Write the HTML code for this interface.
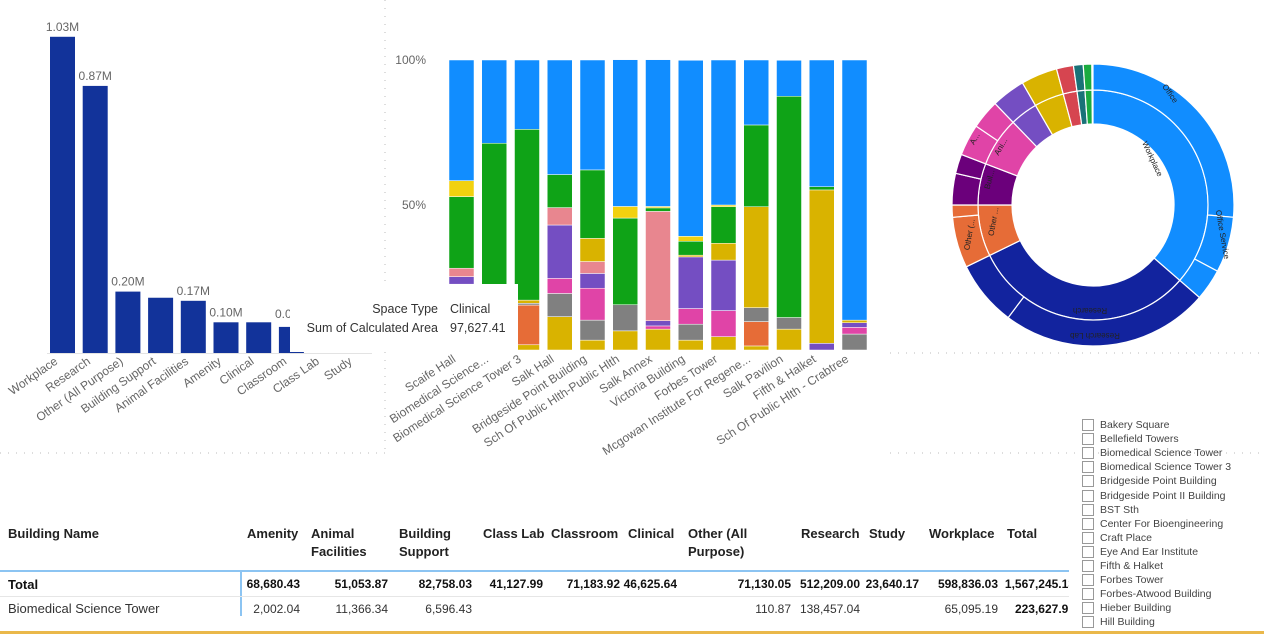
<!DOCTYPE html>
<html><head><meta charset="utf-8">
<style>
body{margin:0;width:1264px;height:634px;overflow:hidden;background:#fff;font-family:"Liberation Sans",sans-serif;position:relative}
svg{position:absolute;left:0;top:0}
.h{position:absolute;font-weight:bold;font-size:13px;line-height:18px;color:#222}
.v{position:absolute;font-size:12px;text-align:right;color:#333}
.vb{position:absolute;font-size:12px;text-align:right;font-weight:bold;color:#111}
.sl{position:absolute;left:1082px;font-size:10.5px;color:#444;height:14px;line-height:12px}
.sl span.cb{position:absolute;left:0;top:0;width:10px;height:10px;border:1px solid #999;background:#fff}
.sl span.t{position:absolute;left:18px;top:0;white-space:nowrap}
</style></head><body>
<svg id="main" width="1264" height="634"></svg>

<div class="h" style="left:8px;top:525px">Building Name</div>
<div class="h" style="left:247px;top:525px">Amenity</div>
<div class="h" style="left:311px;top:525px">Animal<br>Facilities</div>
<div class="h" style="left:399px;top:525px">Building<br>Support</div>
<div class="h" style="left:483px;top:525px">Class Lab</div>
<div class="h" style="left:551px;top:525px">Classroom</div>
<div class="h" style="left:628px;top:525px">Clinical</div>
<div class="h" style="left:688px;top:525px">Other (All<br>Purpose)</div>
<div class="h" style="left:801px;top:525px">Research</div>
<div class="h" style="left:869px;top:525px">Study</div>
<div class="h" style="left:929px;top:525px">Workplace</div>
<div class="h" style="left:1007px;top:525px">Total</div>
<div style="position:absolute;left:0;top:570px;width:1069px;height:2px;background:#8cc4f2"></div>
<div style="position:absolute;left:240px;top:572px;width:2px;height:44px;background:#8cc4f2"></div>
<div style="position:absolute;left:0;top:596px;width:1069px;height:1px;background:#e6e6e6"></div>
<div class="vb" style="left:8px;top:577px;text-align:left;font-size:13px">Total</div>
<div id="rows"></div>
<div style="position:absolute;left:0;top:631px;width:1264px;height:3px;background:#eab84a"></div>
<div id="slicer"></div>

<div style="position:absolute;left:290px;top:284px;width:228px;height:68px;background:#fff">
<div style="position:absolute;right:80px;top:18px;font-size:12.5px;color:#333;white-space:nowrap">Space Type</div>
<div style="position:absolute;left:160px;top:18px;font-size:12.5px;color:#333">Clinical</div>
<div style="position:absolute;right:80px;top:37px;font-size:12.5px;color:#333;white-space:nowrap">Sum of Calculated Area</div>
<div style="position:absolute;left:160px;top:37px;font-size:12.5px;color:#333">97,627.41</div>
</div>
<div style="position:absolute;left:275px;top:307px;font-size:12px;color:#666;width:15px;overflow:hidden;white-space:nowrap">0.0</div>

<script>
// ---- Left bar chart data ----
const spaceTypes=["Workplace","Research","Other (All Purpose)","Building Support","Animal Facilities","Amenity","Clinical","Classroom","Class Lab","Study"];
const spaceValues=[1.03,0.87,0.20,0.18,0.17,0.10,0.10,0.085,0,0];
const spaceLabels=["1.03M","0.87M","0.20M","","0.17M","0.10M","","","",""];
// ---- Stacked 100% chart data ----
const buildings=["Scaife Hall","Biomedical Science...","Biomedical Science Tower 3","Salk Hall","Bridgeside Point Building","Sch Of Public Hlth-Public Hlth","Salk Annex","Victoria Building","Forbes Tower","Mcgowan Institute For Regene...","Salk Pavilion","Fifth & Halket","Sch Of Public Hlth - Crabtree"];
const sGold=   [12,0,1.8,11.5,3.4,6.6,7.2,3.4,4.6,1.4,7.2,0,0];
const sOrange= [0,0,13.7,0,0,0,0,0,0,8.4,0,0,0];
const sGray=   [10.7,0,0.6,8,6.9,9,0,5.5,0,4.8,4,0,5.5];
const sMagenta=[0,0,0,5.2,11,0,1.1,5.4,9,0,0,0,2.3];
const sViolet= [2.6,0,0,18.4,5.1,0,1.8,17.8,17.4,0,0,2.3,1.6];
const sPink=   [2.9,0,0,6,4.1,0,37.7,0,0,0,0,0,0];
const sGold2=  [0,0,1.1,0,8,0,0,0.6,5.8,34.8,0,52.9,0.9];
const sGreen=  [24.7,71.3,58.9,11.4,23.6,29.9,1.2,4.8,12.6,28.2,76.3,1.1,0];
const sYellow= [5.5,0,0,0,0,4,0.5,1.7,0.6,0,0,0,0];
const sBlue=   [41.6,28.7,23.9,39.5,37.9,50.6,50.6,60.7,50,22.4,12.4,43.7,89.7];
const yTicks=[100,50];
// ---- Donut data (degrees of circle) ----
const innerNames=["Workplace","Research","Other","Building Support","Animal Facilities","Amenity","Class Lab","Clinical","Study","Classroom"];
const innerVals=[131,113,26,21,25,14,15,7,4,3.5];
const outerVals=[95,23,13,86,27,21,5,13,8,13,12,14,15,7,4,3.5];

const NS="http://www.w3.org/2000/svg";
const svg=document.getElementById('main');
function mk(tag,attrs,parent){const e=document.createElementNS(NS,tag);for(const k in attrs)e.setAttribute(k,attrs[k]);(parent||svg).appendChild(e);return e;}

[[0,453,385,453],[890,353,1264,353],[385,0,385,450],[890,453,1264,453]].forEach(l=>{
 const e=mk('line',{x1:l[0],y1:l[1],x2:l[2],y2:l[3],stroke:'#bbb','stroke-width':1,'stroke-dasharray':'1 7'});
 
 
});

const lBase=353,lScale=307,lX0=50,lStep=32.7,lW=25;
const lx=i=>lX0+i*lStep, ly=v=>lBase-v*lScale;
mk('line',{x1:47,y1:lBase+0.5,x2:372,y2:lBase+0.5,stroke:'#e3e3e3'});
spaceTypes.forEach((c,i)=>{
 if(spaceValues[i]>0){
  const r=mk('rect',{x:lx(i),y:ly(spaceValues[i]),width:lW,height:lBase-ly(spaceValues[i]),fill:'#12339a'});
  
  
 }
 if(spaceLabels[i]){
  const t=mk('text',{x:lx(i)+lW/2,y:ly(spaceValues[i])-6,'text-anchor':'middle','font-size':12,fill:'#666'});
  t.textContent=spaceLabels[i];
  
  
 }
 const cx=lx(i)+lW/2-4;
 const t=mk('text',{x:cx,y:lBase+10,'text-anchor':'end','font-size':12,fill:'#666',transform:`rotate(-35 ${cx} ${lBase+10})`});
 t.textContent=c;
 
 
});

const sTop=60,sBot=350,sX0=449,sStep=32.75,sW=25;
const sy=p=>sBot-p/100*(sBot-sTop), sx=i=>sX0+i*sStep;
const series=[[sGold,'#d9b300','gold'],[sOrange,'#e66c37','orange'],[sGray,'#808080','gray'],[sMagenta,'#e044a7','magenta'],[sViolet,'#744ec2','violet'],[sPink,'#e8868f','pink'],[sGold2,'#d9b300','gold2'],[sGreen,'#0fa317','green'],[sYellow,'#f2d10f','yellow'],[sBlue,'#118dff','blue']];
yTicks.forEach(v=>{
 const t=mk('text',{x:426,y:sy(v)+4,'text-anchor':'end','font-size':12,fill:'#666'});
 t.textContent=v+'%';
 
 
});
buildings.forEach((b,i)=>{
 let cum=0;
 series.forEach(s=>{
  const v=s[0][i]; if(v>0){
   const r=mk('rect',{x:sx(i),y:sy(cum+v),width:sW,height:sy(cum)-sy(cum+v),fill:s[1],stroke:'#fff','stroke-width':0.5});
   
   
  }
  cum+=v;
 });
 const cx=sx(i)+sW/2-5;
 const t=mk('text',{x:cx,y:sBot+11,'text-anchor':'end','font-size':12,fill:'#666',transform:`rotate(-33 ${cx} ${sBot+11})`});
 t.textContent=b;
 
 
});

const dcx=1093,dcy=205;
function arc(r0,r1,a0,a1,fill,name){
 const rad=a=>(a-90)*Math.PI/180;
 const p=(r,a)=>[dcx+r*Math.cos(rad(a)),dcy+r*Math.sin(rad(a))];
 const lg=(a1-a0)>180?1:0;
 const [x1,y1]=p(r1,a0),[x2,y2]=p(r1,a1),[x3,y3]=p(r0,a1),[x4,y4]=p(r0,a0);
 const e=mk('path',{d:`M${x1},${y1}A${r1},${r1} 0 ${lg} 1 ${x2},${y2}L${x3},${y3}A${r0},${r0} 0 ${lg} 0 ${x4},${y4}Z`,fill:fill,stroke:'#fff','stroke-width':1.2});
 
 
}
const dCols=['#118dff','#12239e','#e66c37','#6b007b','#e044a7','#744ec2','#d9b300','#d64550','#197278','#1aab40'];
const outerParent=[0,0,0,1,1,2,2,3,3,4,4,5,6,7,8,9];
let a=0;
innerVals.forEach((v,i)=>{arc(81,115,a,a+v,dCols[i],'donut-inner-'+innerNames[i].toLowerCase().replace(/[^a-z]+/g,'-'));a+=v;});
a=0;
outerVals.forEach((v,i)=>{arc(115,141,a,a+v,dCols[outerParent[i]],'donut-outer-slice');a+=v;});
[['Office',1168,95,55],['Workplace',1150,160,65],['Office Service',1220,235,80],['Research',1090,308,180],['Research Lab',1095,333,180],['Other (...',972,235,-80],['Other ...',996,222,-80],['Buil...',992,180,-75],['Ani...',1003,148,-60],['A...',977,140,-60]].forEach(l=>{
 const t=mk('text',{x:l[1],y:l[2],'text-anchor':'middle','font-size':8,fill:'#222',transform:`rotate(${l[3]} ${l[1]} ${l[2]})`});
 t.textContent=l[0];
 
 
});

const rowsEl=document.getElementById('rows');
const colEnds=[300,388,472,543,620,677,791,860,919,998,1069];
const totals=["68,680.43","51,053.87","82,758.03","41,127.99","71,183.92","46,625.64","71,130.05","512,209.00","23,640.17","598,836.03","1,567,245.13"];
const row2=["2,002.04","11,366.34","6,596.43","","","","110.87","138,457.04","","65,095.19","223,627.91"];
function cell(txt,right,top,cls,name){
 const d=document.createElement('div');d.className=cls;d.textContent=txt;
 d.style.top=top+'px';d.style.left=(right-110)+'px';d.style.width='110px';
 
 
 rowsEl.appendChild(d);
}
totals.forEach((t,i)=>cell(t,colEnds[i]+(i==10?6:0),577,'vb','total-cell'));
row2.forEach((t,i)=>{if(t)cell(t,colEnds[i]+(i==10?6:0),602,i==10?'vb':'v','row-cell');});
const clip=document.createElement('div');clip.style.cssText='position:absolute;left:1069px;top:574px;width:12px;height:45px;background:#fff';


rowsEl.appendChild(clip);
const rl=document.createElement('div');rl.className='v';rl.style.cssText='left:8px;top:601px;text-align:left;font-size:13px';rl.textContent='Biomedical Science Tower';


rowsEl.appendChild(rl);

const slicerItems=["Bakery Square","Bellefield Towers","Biomedical Science Tower","Biomedical Science Tower 3","Bridgeside Point Building","Bridgeside Point II Building","BST Sth","Center For Bioengineering","Craft Place","Eye And Ear Institute","Fifth & Halket","Forbes Tower","Forbes-Atwood Building","Hieber Building","Hill Building"];
const sl=document.getElementById('slicer');
slicerItems.forEach((n,i)=>{
 const d=document.createElement('div');d.className='sl';d.style.top=(419+i*14.1)+'px';
 d.innerHTML='<span class="cb"></span><span class="t"></span>';
 d.querySelector('.t').textContent=n;
 
 
 sl.appendChild(d);
});
</script>
</body></html>
